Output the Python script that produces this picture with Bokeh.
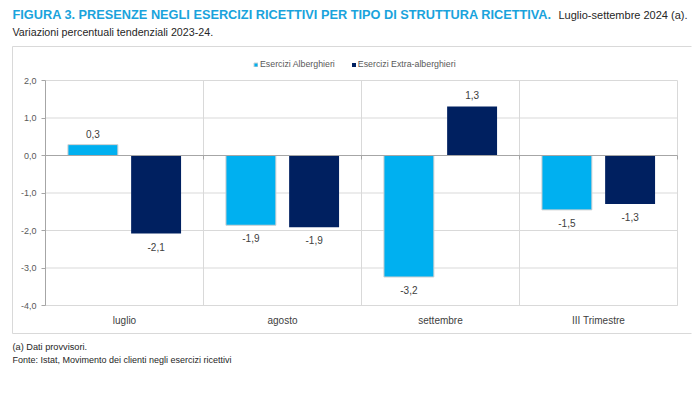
from bokeh.plotting import figure
from bokeh.models import (ColumnDataSource, Range1d, FixedTicker, CustomJSTickFormatter,
                          Label, Arrow, Legend, LegendItem)
from bokeh.core.properties import value
from bokeh.embed import file_html
from bokeh.resources import INLINE

# ---------------- data ----------------
categories = ["luglio", "agosto", "settembre", "III Trimestre"]
alberghieri = [0.29, -1.86, -3.24, -1.45]
extra_alberghieri = [-2.08, -1.91, 1.31, -1.29]
alberghieri_labels = ["0,3", "-1,9", "-3,2", "-1,5"]
extra_labels = ["-2,1", "-1,9", "1,3", "-1,3"]
series_names = ["Esercizi Alberghieri", "Esercizi Extra-alberghieri"]
y_ticks = [-4, -3, -2, -1, 0, 1, 2]

title_main = "FIGURA 3. PRESENZE NEGLI ESERCIZI RICETTIVI PER TIPO DI STRUTTURA RICETTIVA."
title_tail = "Luglio-settembre 2024 (a)."
subtitle = "Variazioni percentuali tendenziali 2023-24."
note = "(a) Dati provvisori."
source_note = "Fonte: Istat, Movimento dei clienti negli esercizi ricettivi"

# ---------------- style / layout ----------------
FONT = "Liberation Sans"
C_LIGHT = "#00b0f0"
C_DARK = "#002060"
C_TEXT = "#404040"
C_GRID = "#d9d9d9"
C_AXIS = "#a6a6a6"
C_TITLE = "#1aa3dc"

W, H = 692, 394
PLOT_L, PLOT_R, PLOT_T, PLOT_B = 45, 677, 80, 305   # data area in canvas pixels
n = len(categories)
ppx = (PLOT_R - PLOT_L) / n
ppy = (PLOT_B - PLOT_T) / (y_ticks[-1] - y_ticks[0])

p = figure(width=W, height=H,
           x_range=Range1d(-PLOT_L / ppx, n + (W - PLOT_R) / ppx),
           y_range=Range1d(y_ticks[0] - (H - PLOT_B) / ppy, y_ticks[-1] + PLOT_T / ppy),
           output_backend="svg", toolbar_location=None, tools="", min_border=0)
p.title.visible = False
p.outline_line_color = None
p.background_fill_color = "white"
p.border_fill_color = "white"
p.xgrid.visible = False
p.ygrid.visible = False

# y axis (drawn inside the frame at the left edge of the data area)
p.yaxis.fixed_location = 0
p.yaxis.bounds = (y_ticks[0], y_ticks[-1])
p.yaxis.ticker = FixedTicker(ticks=y_ticks)
p.yaxis.formatter = CustomJSTickFormatter(code="return tick.toFixed(1).replace('.', ',');")
p.yaxis.axis_line_color = C_AXIS
p.yaxis.major_tick_line_color = C_AXIS
p.yaxis.major_tick_out = 4
p.yaxis.major_tick_in = 0
p.yaxis.minor_tick_line_color = None
p.yaxis.major_label_standoff = 5
p.yaxis.major_label_text_font = FONT
p.yaxis.major_label_text_font_size = "9px"
p.yaxis.major_label_text_color = "#595959"

# x axis (categories)
centers = [i + 0.5 for i in range(n)]
p.xaxis.fixed_location = y_ticks[0]
p.xaxis.bounds = (0, n)
p.xaxis.ticker = FixedTicker(ticks=centers)
p.xaxis.formatter = CustomJSTickFormatter(args=dict(cats=categories),
                                          code="return cats[Math.floor(tick)];")
p.xaxis.axis_line_color = C_GRID
p.xaxis.major_tick_line_color = None
p.xaxis.minor_tick_line_color = None
p.xaxis.major_label_standoff = 3
p.xaxis.major_label_text_font = FONT
p.xaxis.major_label_text_font_size = "10px"
p.xaxis.major_label_text_color = C_TEXT

# horizontal grid lines and category separators
p.segment(x0=[0] * len(y_ticks), x1=[n] * len(y_ticks), y0=y_ticks, y1=y_ticks,
          line_color=C_GRID, line_width=1)
bounds = list(range(n + 1))
p.segment(x0=bounds, x1=bounds, y0=[y_ticks[0]] * len(bounds), y1=[y_ticks[-1]] * len(bounds),
          line_color=C_GRID, line_width=1)

# bars
src = ColumnDataSource(dict(
    x_alb=[c - 0.2 for c in centers], x_ext=[c + 0.2 for c in centers],
    alb=alberghieri, ext=extra_alberghieri))
r1 = p.vbar(x="x_alb", top="alb", bottom=0, width=0.316, source=src,
            fill_color=C_LIGHT, line_color="#d0d0d0", line_width=1)
r2 = p.vbar(x="x_ext", top="ext", bottom=0, width=0.316, source=src,
            fill_color=C_DARK, line_color=None)

# zero line with small ticks at the category boundaries
p.segment(x0=[0], x1=[n], y0=[0], y1=[0], line_color=C_AXIS, line_width=1)
p.segment(x0=bounds[1:], x1=bounds[1:], y0=[0] * n, y1=[-4 / ppy] * n,
          line_color=C_AXIS, line_width=1)

# value labels
for xs, vals, labels in [([c - 0.2 for c in centers], alberghieri, alberghieri_labels),
                         ([c + 0.2 for c in centers], extra_alberghieri, extra_labels)]:
    s = ColumnDataSource(dict(x=xs, y=vals, txt=labels,
                              dy=[-11 if v >= 0 else 13 for v in vals]))
    p.text(x="x", y="y", text="txt", y_offset="dy", source=s, text_align="center",
           text_baseline="middle", text_font=value(FONT), text_font_size="10px",
           text_color=C_TEXT)

# legend
legend = Legend(items=[LegendItem(label=series_names[0], renderers=[r1]),
                       LegendItem(label=series_names[1], renderers=[r2])],
                orientation="horizontal", location=(253, H - 69),
                glyph_width=5, glyph_height=5, label_standoff=2, spacing=16,
                padding=0, margin=0, border_line_color=None,
                background_fill_alpha=0, label_text_font=FONT,
                label_text_font_size="8.8px", label_text_color="#595959",
                label_height=5)
p.add_layout(legend)

# outer box of the chart (top, left and bottom edges; the right edge is off-page)
BOX_L, BOX_T, BOX_B, BOX_R = 12, 46, 333, W - 1
for (xa, ya, xb, yb) in [(BOX_L, BOX_T, BOX_R, BOX_T),
                         (BOX_L, BOX_T, BOX_L, BOX_B),
                         (BOX_L, BOX_B, BOX_R, BOX_B)]:
    p.add_layout(Arrow(start=None, end=None, x_start=xa, y_start=H - ya,
                       x_end=xb, y_end=H - yb, start_units="screen", end_units="screen",
                       line_color=C_GRID, line_width=1))


# titles and notes (screen units: x from left, y from bottom)
def add_text(txt, X, Y, size, color=C_TEXT, style="normal", align="left"):
    p.add_layout(Label(x=X, y=H - Y, x_units="screen", y_units="screen", text=txt,
                       text_font=FONT, text_font_size=size, text_color=color,
                       text_font_style=style, text_baseline="middle", text_align=align))


add_text(title_main, 12, 14, "12.75px", C_TITLE, "bold")
add_text(title_tail, 687, 14, "11px", "#262626", align="right")
add_text(subtitle, 12, 31, "10.7px", "#262626")
add_text(note, 12, 346, "9.2px", "#262626")
add_text(source_note, 12, 359, "9px", "#262626")

open("out.html", "w").write(file_html(p, INLINE))
